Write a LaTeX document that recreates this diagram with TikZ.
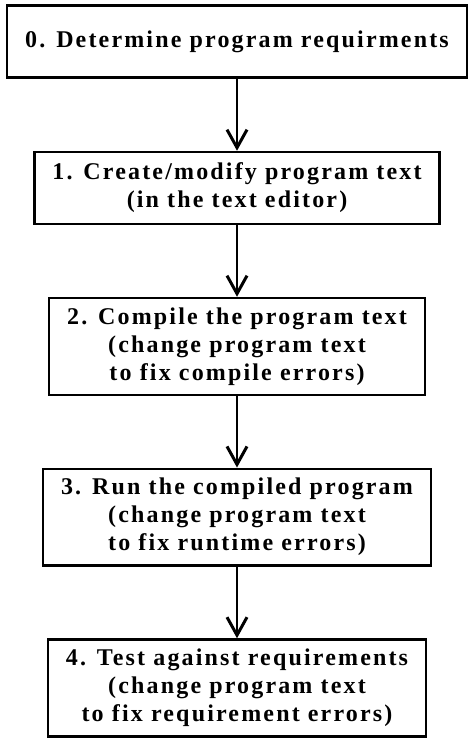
\documentclass[tikz,border=0pt]{standalone}
\usepackage{fontspec}
\setmainfont{Liberation Serif}[LetterSpace=9]
\usetikzlibrary{positioning,arrows.meta}
\tikzset{
    B/.style={
        draw,line width=2.5pt,align=center,font=\fontsize{24pt}{28pt}\selectfont\bfseries,
        inner xsep=18pt,inner ysep=9.5pt,minimum height=72pt
    },
    A/.style={line width=2.5pt,-{Straight Barb[length=18pt,width=20pt,line width=3pt]}}
}
\begin{document}
\begin{tikzpicture}
        \useasboundingbox (0,0) rectangle (474pt,-746pt);
        \node[B] at (237pt,-41.5pt) (S0){0. Determine program requirments}; % steps
        \node[B,below=72pt of S0](S1){1. Create/modify program text\\(in the text editor)};
        \node[B,below=71.5pt of S1](S2){2. Compile the program text\\(change program text\\to fix compile errors)};
        \node[B,below=71.5pt of S2](S3){3. Run the compiled program\\(change program text\\to fix runtime errors)};
        \node[B,below=71.5pt of S3](S4){4. Test against requirements\\(change program text\\to fix requirement errors)};

        \foreach \a/\b in {S0/S1,S1/S2,S2/S3,S3/S4}{\draw[A](\a.south) -- (\b.north);}
    \end{tikzpicture}
\end{document}
